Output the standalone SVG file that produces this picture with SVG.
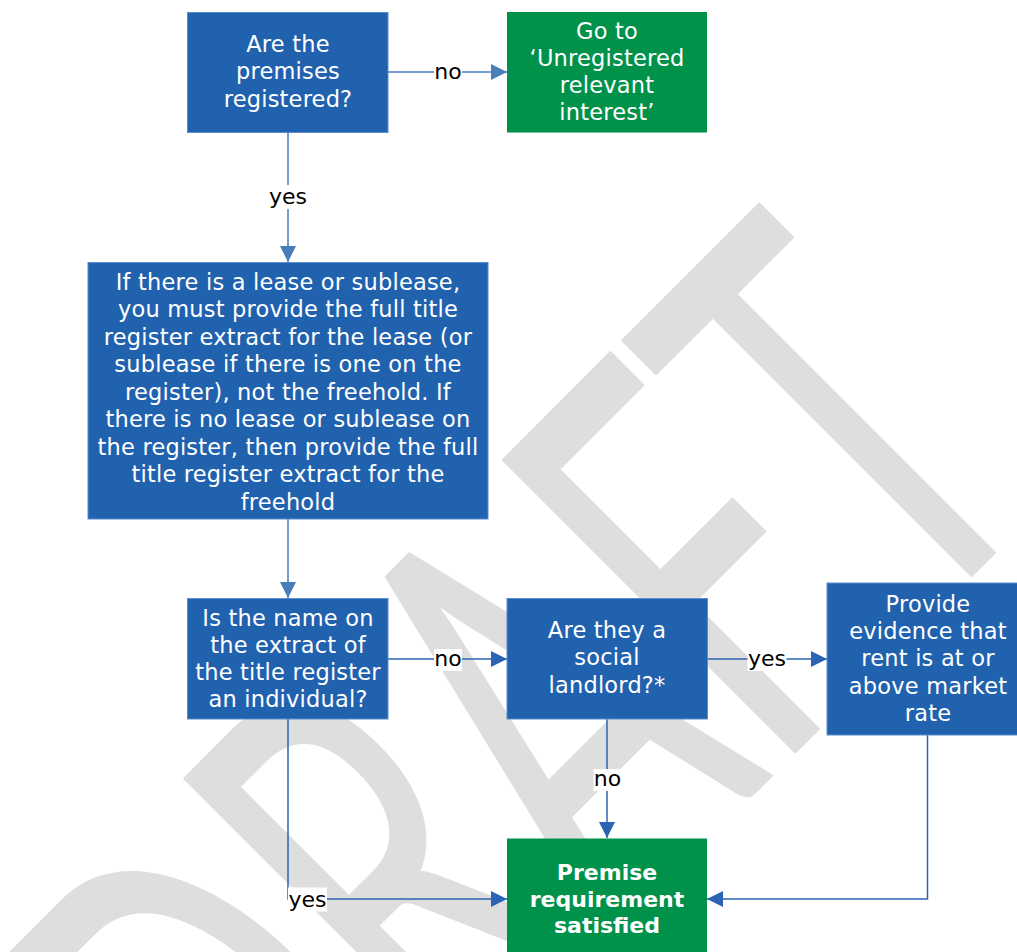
<svg xmlns="http://www.w3.org/2000/svg" width="1017" height="952" viewBox="0 0 1017 952">
<style>
.wm{font-family:Lato,"Liberation Sans",sans-serif;font-size:576px;fill:#dedede;stroke:#dedede;stroke-width:3;stroke-linejoin:round}
.bx{fill:#2162af;stroke:#5b8bd0;stroke-width:1}
.gr{fill:#00924a}
.t{font-family:"DejaVu Sans",Verdana,sans-serif;font-size:22.5px;letter-spacing:0.2px;fill:#ffffff;text-anchor:middle}
.tb{font-family:"DejaVu Sans",Verdana,sans-serif;font-size:22px;font-weight:bold;fill:#ffffff;text-anchor:middle}
.lb{font-family:"DejaVu Sans",Verdana,sans-serif;font-size:22px;fill:#000000;text-anchor:middle}
.lbg{fill:#ffffff}
.c1{fill:none;stroke:#4a7ebb;stroke-width:1.5}
.c2{fill:none;stroke:#2c64b4;stroke-width:1.5}
</style>
<defs>
<marker id="a1" markerWidth="16" markerHeight="16" refX="16" refY="8" orient="auto" markerUnits="userSpaceOnUse"><path d="M0,0 L16,8 L0,16 z" fill="#4a7ebb"/></marker>
<marker id="a2" markerWidth="16" markerHeight="16" refX="16" refY="8" orient="auto" markerUnits="userSpaceOnUse"><path d="M0,0 L16,8 L0,16 z" fill="#2c64b4"/></marker>
</defs>
<rect width="1017" height="952" fill="#ffffff"/>
<text class="wm" transform="translate(1055,492) rotate(-45) scale(0.6,1)" text-anchor="end" x="0" y="0">DRAFT</text>

<g id="connectors">
<path class="c1" d="M388,72 H507" marker-end="url(#a1)"/>
<path class="c1" d="M288,132.5 V262" marker-end="url(#a1)"/>
<path class="c1" d="M288,519 V598" marker-end="url(#a1)"/>
<path class="c2" d="M388,659 H507" marker-end="url(#a2)"/>
<path class="c2" d="M707.5,659 H827" marker-end="url(#a2)"/>
<path class="c2" d="M607,719 V838" marker-end="url(#a2)"/>
<path class="c2" d="M288,719 V899 H507" marker-end="url(#a2)"/>
<path class="c2" d="M927.5,735 V899 H707" marker-end="url(#a2)"/>
<rect class="lbg" x="434" y="62" width="28" height="22"/><text class="lb" x="448" y="79">no</text>
<rect class="lbg" x="268.5" y="185" width="39" height="24"/><text class="lb" x="288" y="204">yes</text>
<rect class="lbg" x="434" y="649" width="28" height="22"/><text class="lb" x="448" y="666">no</text>
<rect class="lbg" x="747.5" y="647" width="39" height="24"/><text class="lb" x="767" y="666">yes</text>
<rect class="lbg" x="593.5" y="769" width="28" height="22"/><text class="lb" x="607.5" y="786">no</text>
<rect class="lbg" x="288" y="887.5" width="39" height="24"/><text class="lb" x="307.5" y="906.5">yes</text>
</g>

<g id="n1">
<rect class="bx" x="187.5" y="12.5" width="200.5" height="120"/>
<text class="t"><tspan x="288" y="52">Are the</tspan><tspan x="288" y="79.3">premises</tspan><tspan x="288" y="106.7">registered?</tspan></text>
</g>
<g id="n2">
<rect class="gr" x="507" y="12" width="200" height="120.5"/>
<text class="t"><tspan x="607" y="38.5">Go to</tspan><tspan x="607" y="65.8">‘Unregistered</tspan><tspan x="607" y="93.1">relevant</tspan><tspan x="607" y="120.4">interest’</tspan></text>
</g>
<g id="n3">
<rect class="bx" x="88" y="262.5" width="400" height="256.5"/>
<text class="t"><tspan x="288" y="289.5">If there is a lease or sublease,</tspan><tspan x="288" y="317">you must provide the full title</tspan><tspan x="288" y="344.5">register extract for the lease (or</tspan><tspan x="288" y="372">sublease if there is one on the</tspan><tspan x="288" y="399.5">register), not the freehold. If</tspan><tspan x="288" y="427">there is no lease or sublease on</tspan><tspan x="288" y="454.5">the register, then provide the full</tspan><tspan x="288" y="482">title register extract for the</tspan><tspan x="288" y="509.5">freehold</tspan></text>
</g>
<g id="n4">
<rect class="bx" x="187.5" y="598.5" width="200.5" height="120.5"/>
<text class="t"><tspan x="288" y="625.5">Is the name on</tspan><tspan x="288" y="652.6">the extract of</tspan><tspan x="288" y="679.7">the title register</tspan><tspan x="288" y="706.8">an individual?</tspan></text>
</g>
<g id="n5">
<rect class="bx" x="507" y="598.5" width="200.5" height="120.5"/>
<text class="t"><tspan x="607" y="638">Are they a</tspan><tspan x="607" y="665.3">social</tspan><tspan x="607" y="692.6">landlord?*</tspan></text>
</g>
<g id="n6">
<rect class="bx" x="827" y="583" width="202" height="152"/>
<text class="t"><tspan x="928" y="611.5">Provide</tspan><tspan x="928" y="639">evidence that</tspan><tspan x="928" y="666.3">rent is at or</tspan><tspan x="928" y="693.6">above market</tspan><tspan x="928" y="720.9">rate</tspan></text>
</g>
<g id="n7">
<rect class="gr" x="507" y="838.5" width="200" height="122"/>
<text class="tb"><tspan x="607" y="880">Premise</tspan><tspan x="607" y="906.7">requirement</tspan><tspan x="607" y="933.4">satisfied</tspan></text>
</g>
</svg>
